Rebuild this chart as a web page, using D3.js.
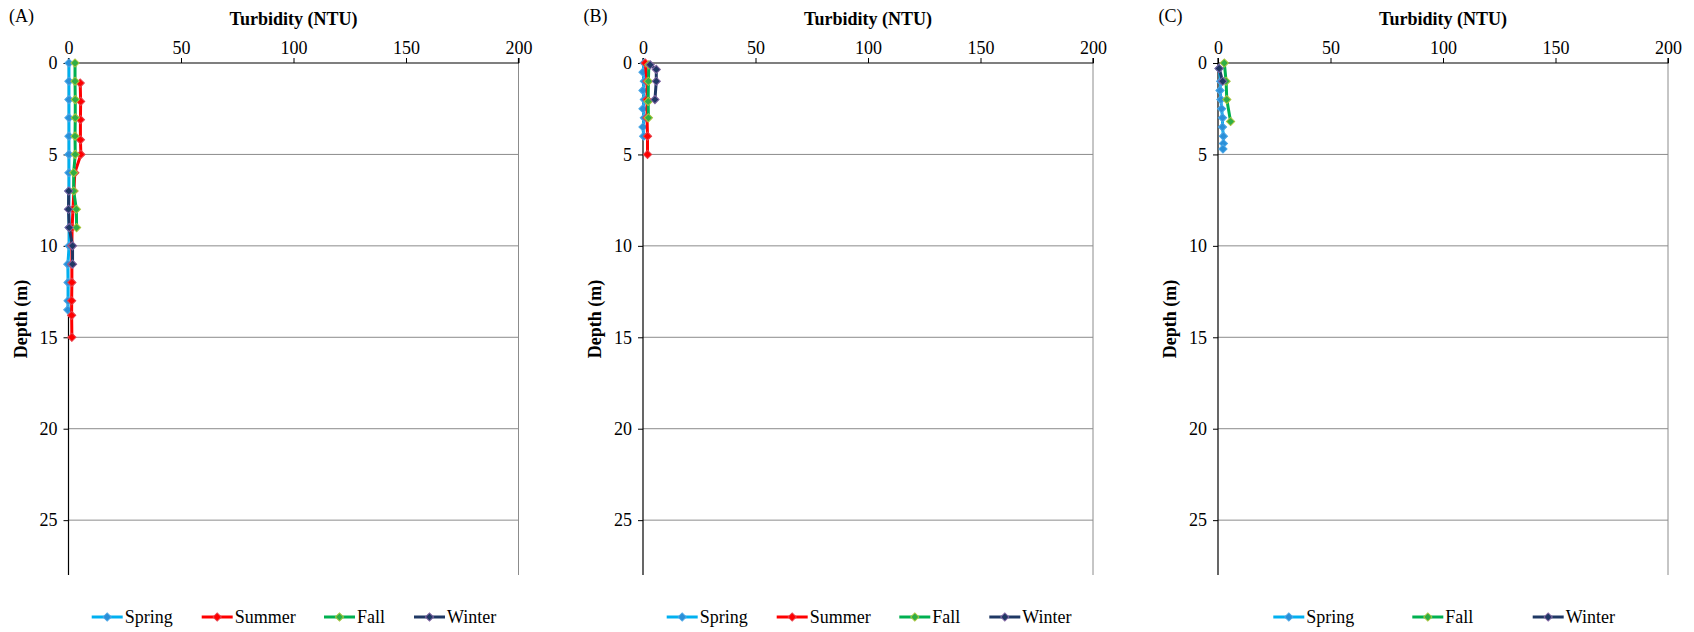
<!DOCTYPE html>
<html>
<head>
<meta charset="utf-8">
<script src="https://cdn.jsdelivr.net/npm/d3@7"></script>
<style>
  html, body { margin: 0; padding: 0; background: #fff; }
  svg { display: block; }
  svg text { font-family: "Liberation Serif", "Times New Roman", Times, "DejaVu Serif", serif !important; fill: #000; }
</style>
</head>
<body>
<svg id="chart" width="1694" height="632"></svg>
<script>
// ---------------- DATA ----------------
const panelLabels = ["(A)", "(B)", "(C)"];
const xTicks = [0, 50, 100, 150, 200];
const yTicks = [0, 5, 10, 15, 20, 25];
const xTitle = "Turbidity (NTU)";
const yTitle = "Depth (m)";

// Panel A
const aSpringDepth = [0, 1, 2, 3, 4, 5, 6, 7, 8, 9, 10, 11, 12, 13, 13.5];
const aSpringTurb  = [0.2, 0.2, 0.2, 0.2, 0.2, 0.2, 0.2, 0.2, 0.2, 0.3, 0.3, -0.3, -0.2, -0.2, -0.3];
const aSummerDepth = [1.1, 2.1, 3.1, 4.2, 5, 6, 7, 8, 9, 10, 11, 12, 13, 13.8, 15];
const aSummerTurb  = [5.2, 5.4, 5.3, 5.3, 5.5, 2.8, 2.4, 2.0, 1.6, 1.5, 1.5, 1.5, 1.4, 1.4, 1.5];
const aFallDepth = [0, 1, 2, 3, 4, 5, 6, 7, 8, 9];
const aFallTurb  = [2.9, 2.9, 3.0, 3.0, 2.9, 3.0, 2.3, 2.3, 3.5, 3.6];
const aWinterDepth = [7, 8, 9, 10, 11];
const aWinterTurb  = [0.1, 0.0, 0.3, 1.8, 1.8];

// Panel B
const bSpringDepth = [0, 0.5, 1, 1.5, 2, 2.5, 3, 3.5, 4];
const bSpringTurb  = [0.5, 0, 0.6, 0, 0.6, 0, 0.6, 0, 0.3];
const bSummerDepth = [0, 1, 2, 3, 4, 5];
const bSummerTurb  = [1.0, 1.8, 1.8, 1.8, 2.0, 2.0];
const bFallDepth = [0.1, 1, 2.1, 3];
const bFallTurb  = [2.6, 2.4, 2.3, 2.4];
const bWinterDepth = [0.1, 0.35, 1, 2];
const bWinterTurb  = [3.2, 5.9, 5.9, 5.3];

// Panel C
const cSpringDepth = [0.3, 1, 1.5, 2, 2.5, 3, 3.5, 4, 4.4, 4.7];
const cSpringTurb  = [0.5, 1.2, 0.9, 1.3, 1.6, 2.0, 2.0, 2.4, 2.4, 2.2];
const cFallDepth = [0, 1, 2, 3.2];
const cFallTurb  = [2.8, 3.6, 3.9, 5.6];
const cWinterDepth = [0.3, 1];
const cWinterTurb  = [0.5, 2.1];

// ---------------- STYLES ----------------
const FONT = "'Liberation Serif', 'Times New Roman', Times, serif";
const styles = {
  Spring: { line: "#00b0f0", fill: "#2a8fd8", stroke: "#4aa6e6" },
  Summer: { line: "#ff0000", fill: "#ff0000", stroke: "#e8404a" },
  Fall:   { line: "#00b050", fill: "#2eae46", stroke: "#a8c43c" },
  Winter: { line: "#1f3864", fill: "#1f3864", stroke: "#8064a2" }
};

function zip(d, t) { return d.map((v, i) => ({ depth: v, turb: t[i] })); }

const panels = [
  { label: panelLabels[0], left: 68.5, series: [
      { name: "Spring", data: zip(aSpringDepth, aSpringTurb) },
      { name: "Summer", data: zip(aSummerDepth, aSummerTurb) },
      { name: "Fall",   data: zip(aFallDepth, aFallTurb) },
      { name: "Winter", data: zip(aWinterDepth, aWinterTurb) } ],
    legendX: [23.2, 133.2, 255.5, 345.5] },
  { label: panelLabels[1], left: 643, series: [
      { name: "Spring", data: zip(bSpringDepth, bSpringTurb) },
      { name: "Summer", data: zip(bSummerDepth, bSummerTurb) },
      { name: "Fall",   data: zip(bFallDepth, bFallTurb) },
      { name: "Winter", data: zip(bWinterDepth, bWinterTurb) } ],
    legendX: [23.7, 133.7, 256.3, 346.3] },
  { label: panelLabels[2], left: 1218, series: [
      { name: "Spring", data: zip(cSpringDepth, cSpringTurb) },
      { name: "Fall",   data: zip(cFallDepth, cFallTurb) },
      { name: "Winter", data: zip(cWinterDepth, cWinterTurb) } ],
    legendX: [55.3, 194.3, 314.7] }
];

const svg = d3.select("#chart").attr("font-family", FONT);
const W = 450, plotTop = 63, H = 512;
const diamond = d3.symbol().type(d3.symbolSquare).size(34);

panels.forEach(p => {
  const g = svg.append("g").attr("transform", `translate(${p.left},${plotTop})`);
  const x = d3.scaleLinear().domain([0, 200]).range([0, W]);
  const y = d3.scaleLinear().domain([0, 28]).range([0, H]);

  // gridlines
  g.append("g").selectAll("line").data(yTicks.filter(v => v > 0)).join("line")
    .attr("x1", 0).attr("x2", W).attr("y1", d => y(d)).attr("y2", d => y(d))
    .attr("stroke", "#8c8c8c").attr("stroke-width", 1);
  // right border
  g.append("line").attr("x1", W).attr("x2", W).attr("y1", 0).attr("y2", H)
    .attr("stroke", "#8c8c8c").attr("stroke-width", 1);

  // axes
  const xAxis = d3.axisTop(x).tickValues(xTicks).tickSize(5).tickPadding(4);
  const gx = g.append("g").call(xAxis).attr("font-family", FONT).attr("font-size", 18);
  gx.select(".domain").attr("stroke", "#000").attr("stroke-width", 1.2).attr("d", `M0,-5V0H${W}V-5`);
  gx.selectAll(".tick line").attr("stroke", "#000");

  const yAxis = d3.axisLeft(y).tickValues(yTicks).tickSize(5).tickPadding(6);
  const gy = g.append("g").call(yAxis).attr("font-family", FONT).attr("font-size", 18);
  gy.select(".domain").attr("stroke", "#000").attr("stroke-width", 1.2).attr("d", `M0,0V${H}`);
  gy.selectAll(".tick line").attr("stroke", "#000");

  // titles
  g.append("text").attr("x", W / 2).attr("y", 24.5 - plotTop).attr("text-anchor", "middle")
    .attr("font-size", 18).attr("font-weight", "bold").text(xTitle);
  g.append("text").attr("transform", `translate(-42,${319 - plotTop}) rotate(-90)`)
    .attr("text-anchor", "middle").attr("font-size", 18).attr("font-weight", "bold").text(yTitle);
  g.append("text").attr("x", -59.5).attr("y", 22 - plotTop)
    .attr("font-size", 18).text(p.label);

  // series
  const line = d3.line().x(d => x(d.turb)).y(d => y(d.depth));
  p.series.forEach(s => {
    const st = styles[s.name];
    const sg = g.append("g");
    sg.append("path").datum(s.data).attr("d", line).attr("fill", "none")
      .attr("stroke", st.line).attr("stroke-width", 3).attr("stroke-linejoin", "round");
    sg.selectAll("path.m").data(s.data).join("path").attr("class", "m")
      .attr("d", diamond).attr("transform", d => `translate(${x(d.turb)},${y(d.depth)}) rotate(45)`)
      .attr("fill", st.fill).attr("stroke", st.stroke).attr("stroke-width", 1);
  });

  // legend
  const lg = g.append("g").attr("transform", `translate(0,${617 - plotTop})`);
  p.series.forEach((s, i) => {
    const st = styles[s.name];
    const lx = p.legendX[i];
    lg.append("line").attr("x1", lx).attr("x2", lx + 31).attr("y1", 0).attr("y2", 0)
      .attr("stroke", st.line).attr("stroke-width", 3);
    lg.append("path").attr("d", diamond).attr("transform", `translate(${lx + 15.5},0) rotate(45)`)
      .attr("fill", st.fill).attr("stroke", st.stroke).attr("stroke-width", 1);
    lg.append("text").attr("x", lx + 33).attr("y", 6).attr("font-size", 18).text(s.name);
  });
});
</script>
</body>
</html>
